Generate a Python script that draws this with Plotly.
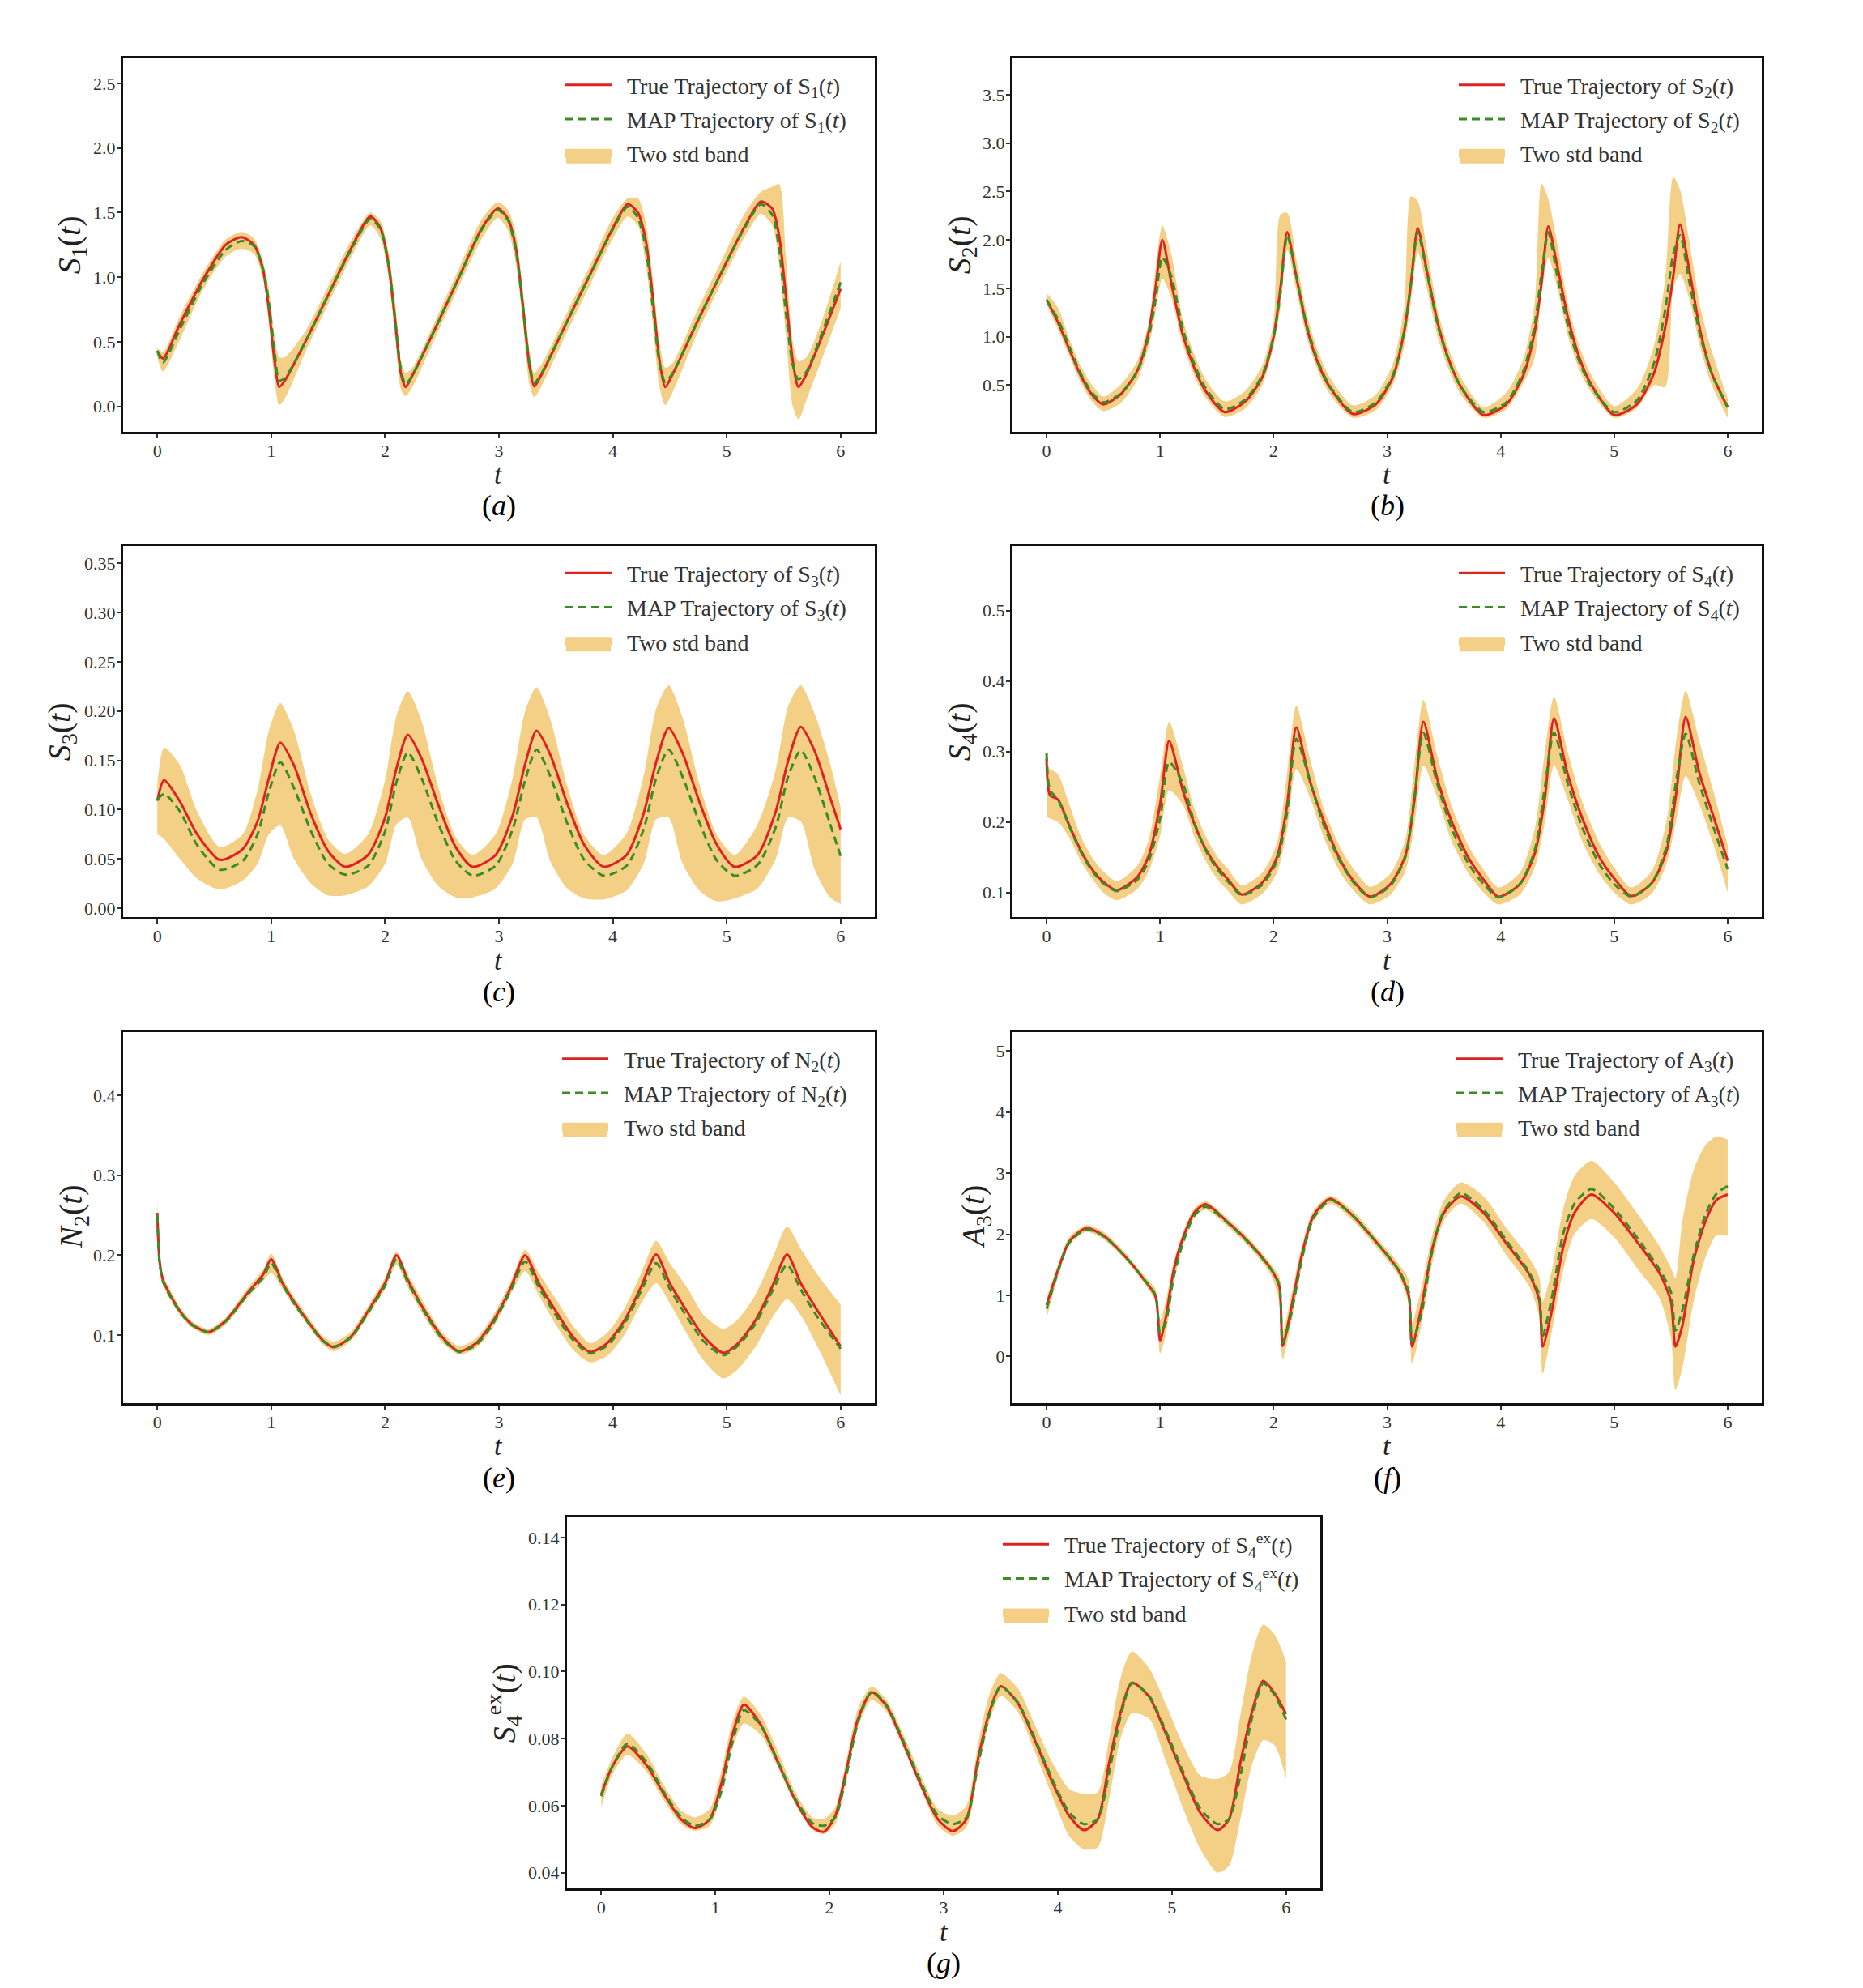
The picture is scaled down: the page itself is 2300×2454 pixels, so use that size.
import plotly.graph_objects as go

# ---------------- data ----------------
# (a) S1
t_a = [0.00, 0.05, 0.20, 0.40, 0.60, 0.74, 0.85, 0.93, 0.98, 1.03,
       1.07, 1.12, 1.30, 1.50, 1.70, 1.87, 1.96, 2.03, 2.09, 2.14,
       2.18, 2.24, 2.45, 2.65, 2.85, 2.99, 3.08, 3.15, 3.21, 3.27,
       3.31, 3.37, 3.60, 3.80, 4.00, 4.13, 4.22, 4.29, 4.35, 4.41,
       4.46, 4.52, 4.75, 4.95, 5.15, 5.30, 5.40, 5.46, 5.52, 5.58,
       5.63, 5.70, 5.85, 6.00]
true_a = [0.43, 0.37, 0.64, 0.98, 1.25, 1.31, 1.25, 1.05, 0.75, 0.35,
          0.15, 0.20, 0.50, 0.86, 1.22, 1.47, 1.38, 1.10, 0.65, 0.25,
          0.15, 0.24, 0.62, 1.00, 1.38, 1.53, 1.45, 1.22, 0.78, 0.30,
          0.155, 0.24, 0.66, 1.02, 1.38, 1.565, 1.50, 1.28, 0.85, 0.35,
          0.15, 0.24, 0.67, 1.03, 1.38, 1.585, 1.53, 1.32, 0.85, 0.35,
          0.15, 0.25, 0.57, 0.91]
map_a = [0.43, 0.34, 0.60, 0.95, 1.21, 1.28, 1.24, 1.06, 0.80, 0.42,
         0.20, 0.22, 0.50, 0.86, 1.21, 1.45, 1.37, 1.10, 0.66, 0.28,
         0.17, 0.24, 0.62, 1.00, 1.37, 1.52, 1.44, 1.20, 0.77, 0.32,
         0.18, 0.25, 0.66, 1.02, 1.37, 1.545, 1.46, 1.22, 0.78, 0.33,
         0.19, 0.25, 0.67, 1.03, 1.37, 1.565, 1.48, 1.22, 0.72, 0.32,
         0.21, 0.27, 0.60, 0.96]
lo_a = [0.38, 0.27, 0.52, 0.90, 1.16, 1.22, 1.18, 0.98, 0.65, 0.20,
        0.01, 0.06, 0.42, 0.79, 1.15, 1.40, 1.30, 1.00, 0.52, 0.13,
        0.08, 0.15, 0.55, 0.93, 1.30, 1.46, 1.36, 1.10, 0.65, 0.16,
        0.07, 0.15, 0.58, 0.94, 1.30, 1.47, 1.40, 1.10, 0.65, 0.15,
        0.01, 0.10, 0.58, 0.95, 1.30, 1.49, 1.40, 1.10, 0.55, 0.00,
        -0.10, 0.05, 0.40, 0.76]
hi_a = [0.45, 0.42, 0.70, 1.03, 1.29, 1.35, 1.30, 1.12, 0.90, 0.55,
        0.38, 0.38, 0.58, 0.93, 1.28, 1.50, 1.43, 1.20, 0.80, 0.35,
        0.26, 0.30, 0.68, 1.07, 1.45, 1.58, 1.52, 1.33, 0.90, 0.42,
        0.26, 0.32, 0.73, 1.09, 1.46, 1.61, 1.61, 1.42, 1.00, 0.50,
        0.30, 0.33, 0.76, 1.12, 1.48, 1.66, 1.70, 1.72, 1.15, 0.50,
        0.35, 0.38, 0.70, 1.12]

# (b) S2
t_b = [0.00, 0.10, 0.20, 0.30, 0.40, 0.50, 0.65, 0.80, 0.90, 0.96,
       1.02, 1.10, 1.20, 1.30, 1.40, 1.57, 1.75, 1.90, 2.00, 2.06,
       2.12, 2.20, 2.30, 2.40, 2.50, 2.70, 2.90, 3.05, 3.15, 3.21,
       3.27, 3.35, 3.45, 3.55, 3.65, 3.85, 4.05, 4.20, 4.30, 4.36,
       4.42, 4.50, 4.60, 4.70, 4.80, 5.00, 5.20, 5.35, 5.45, 5.52,
       5.58, 5.66, 5.76, 5.86, 6.00]
true_b = [1.38, 1.15, 0.87, 0.60, 0.40, 0.30, 0.40, 0.65, 1.05, 1.50,
          2.00, 1.55, 1.02, 0.68, 0.44, 0.22, 0.33, 0.58, 1.00, 1.50,
          2.08, 1.62, 1.06, 0.70, 0.47, 0.20, 0.30, 0.58, 1.05, 1.55,
          2.12, 1.68, 1.12, 0.74, 0.48, 0.19, 0.30, 0.60, 1.05, 1.55,
          2.14, 1.72, 1.16, 0.76, 0.50, 0.19, 0.30, 0.62, 1.10, 1.62,
          2.16, 1.70, 1.05, 0.62, 0.27]
map_b = [1.38, 1.18, 0.90, 0.62, 0.42, 0.32, 0.41, 0.64, 1.00, 1.38,
         1.82, 1.62, 1.08, 0.72, 0.47, 0.25, 0.35, 0.60, 1.00, 1.45,
         2.05, 1.62, 1.08, 0.72, 0.48, 0.22, 0.32, 0.60, 1.05, 1.55,
         2.08, 1.66, 1.10, 0.73, 0.48, 0.22, 0.32, 0.64, 1.12, 1.65,
         2.08, 1.62, 1.08, 0.72, 0.48, 0.22, 0.34, 0.72, 1.28, 1.85,
         2.05, 1.58, 1.00, 0.62, 0.27]
lo_b = [1.33, 1.08, 0.80, 0.53, 0.33, 0.23, 0.31, 0.55, 0.90, 1.25,
        1.60, 1.40, 0.92, 0.60, 0.37, 0.17, 0.26, 0.50, 0.90, 1.30,
        1.90, 1.48, 0.96, 0.62, 0.40, 0.16, 0.24, 0.50, 0.90, 1.35,
        1.88, 1.50, 0.98, 0.64, 0.40, 0.16, 0.25, 0.52, 0.78, 1.45,
        1.82, 1.50, 0.98, 0.64, 0.42, 0.16, 0.26, 0.50, 0.48, 1.50,
        1.65, 1.40, 0.88, 0.50, 0.16]
hi_b = [1.45, 1.30, 0.98, 0.70, 0.50, 0.38, 0.50, 0.75, 1.15, 1.70,
        2.15, 1.85, 1.18, 0.82, 0.56, 0.33, 0.44, 0.70, 1.15, 2.26,
        2.28, 1.80, 1.20, 0.82, 0.57, 0.29, 0.40, 0.72, 1.30, 2.45,
        2.40, 1.90, 1.25, 0.85, 0.58, 0.27, 0.42, 0.77, 1.35, 2.58,
        2.42, 1.95, 1.30, 0.88, 0.60, 0.28, 0.46, 0.90, 1.60, 2.65,
        2.52, 2.00, 1.30, 0.85, 0.36]

# (c) S3
t_c = [0.00, 0.06, 0.20, 0.35, 0.55, 0.75, 0.88, 0.98, 1.08, 1.20,
       1.35, 1.50, 1.65, 1.85, 2.00, 2.10, 2.20, 2.32, 2.47, 2.62,
       2.77, 2.97, 3.12, 3.23, 3.33, 3.45, 3.60, 3.75, 3.92, 4.12,
       4.27, 4.38, 4.49, 4.61, 4.76, 4.91, 5.07, 5.27, 5.43, 5.54,
       5.65, 5.77, 5.90, 6.00]
true_c = [0.109, 0.130, 0.108, 0.075, 0.049, 0.060, 0.088, 0.132, 0.168, 0.145,
          0.095, 0.058, 0.042, 0.054, 0.092, 0.142, 0.176, 0.152, 0.104, 0.062,
          0.042, 0.054, 0.094, 0.146, 0.180, 0.156, 0.106, 0.064, 0.042, 0.054,
          0.096, 0.148, 0.183, 0.158, 0.108, 0.065, 0.042, 0.054, 0.098, 0.150,
          0.184, 0.160, 0.115, 0.080]
map_c = [0.110, 0.116, 0.098, 0.064, 0.039, 0.048, 0.075, 0.118, 0.148, 0.122,
         0.078, 0.045, 0.034, 0.043, 0.078, 0.128, 0.158, 0.132, 0.085, 0.048,
         0.033, 0.043, 0.080, 0.130, 0.161, 0.134, 0.086, 0.049, 0.033, 0.043,
         0.080, 0.132, 0.161, 0.134, 0.087, 0.049, 0.033, 0.044, 0.082, 0.134,
         0.160, 0.133, 0.088, 0.053]
lo_c = [0.075, 0.070, 0.050, 0.030, 0.019, 0.028, 0.045, 0.075, 0.084, 0.050,
        0.025, 0.013, 0.013, 0.022, 0.045, 0.085, 0.092, 0.050, 0.022, 0.011,
        0.011, 0.020, 0.045, 0.090, 0.092, 0.048, 0.020, 0.010, 0.009, 0.018,
        0.045, 0.090, 0.092, 0.046, 0.018, 0.007, 0.010, 0.020, 0.050, 0.092,
        0.088, 0.040, 0.012, 0.004]
hi_c = [0.125, 0.163, 0.145, 0.098, 0.062, 0.075, 0.120, 0.180, 0.208, 0.180,
        0.115, 0.070, 0.055, 0.075, 0.130, 0.195, 0.220, 0.190, 0.122, 0.072,
        0.054, 0.075, 0.132, 0.200, 0.224, 0.192, 0.124, 0.074, 0.054, 0.076,
        0.134, 0.202, 0.226, 0.194, 0.126, 0.075, 0.054, 0.085, 0.140, 0.205,
        0.226, 0.198, 0.150, 0.102]

# (d) S4
t_d = [0.00, 0.03, 0.10, 0.20, 0.30, 0.40, 0.50, 0.62, 0.80, 0.90,
       1.00, 1.08, 1.20, 1.30, 1.40, 1.50, 1.60, 1.72, 1.90, 2.03,
       2.12, 2.20, 2.32, 2.45, 2.60, 2.72, 2.85, 3.03, 3.16, 3.24,
       3.32, 3.44, 3.57, 3.72, 3.85, 3.98, 4.17, 4.30, 4.39, 4.47,
       4.59, 4.72, 4.87, 5.00, 5.15, 5.33, 5.46, 5.55, 5.63, 5.75,
       5.88, 6.00]
true_d = [0.290, 0.238, 0.232, 0.195, 0.160, 0.133, 0.115, 0.103, 0.122, 0.152,
          0.225, 0.315, 0.245, 0.198, 0.162, 0.137, 0.118, 0.097, 0.114, 0.150,
          0.225, 0.334, 0.258, 0.198, 0.142, 0.113, 0.094, 0.112, 0.152, 0.230,
          0.342, 0.262, 0.200, 0.148, 0.118, 0.094, 0.112, 0.155, 0.235, 0.347,
          0.268, 0.205, 0.150, 0.120, 0.095, 0.113, 0.158, 0.245, 0.349, 0.270,
          0.205, 0.145]
map_d = [0.298, 0.245, 0.232, 0.194, 0.158, 0.131, 0.113, 0.102, 0.118, 0.145,
         0.205, 0.285, 0.255, 0.200, 0.160, 0.134, 0.115, 0.096, 0.111, 0.145,
         0.215, 0.318, 0.258, 0.192, 0.140, 0.111, 0.093, 0.110, 0.150, 0.235,
         0.326, 0.255, 0.190, 0.140, 0.112, 0.093, 0.112, 0.160, 0.250, 0.327,
         0.255, 0.192, 0.140, 0.112, 0.094, 0.113, 0.165, 0.262, 0.325, 0.255,
         0.190, 0.133]
lo_d = [0.208, 0.205, 0.200, 0.178, 0.145, 0.120, 0.100, 0.089, 0.105, 0.130,
        0.180, 0.245, 0.225, 0.180, 0.145, 0.120, 0.102, 0.083, 0.098, 0.128,
        0.190, 0.275, 0.235, 0.175, 0.125, 0.100, 0.083, 0.097, 0.130, 0.195,
        0.280, 0.235, 0.172, 0.126, 0.100, 0.083, 0.097, 0.135, 0.200, 0.280,
        0.232, 0.172, 0.126, 0.100, 0.083, 0.098, 0.140, 0.205, 0.265, 0.225,
        0.165, 0.100]
hi_d = [0.282, 0.275, 0.268, 0.225, 0.180, 0.150, 0.130, 0.116, 0.138, 0.175,
        0.265, 0.342, 0.280, 0.220, 0.180, 0.152, 0.133, 0.110, 0.128, 0.170,
        0.270, 0.365, 0.290, 0.215, 0.160, 0.130, 0.108, 0.127, 0.175, 0.280,
        0.373, 0.295, 0.222, 0.165, 0.132, 0.107, 0.128, 0.190, 0.300, 0.378,
        0.300, 0.228, 0.170, 0.135, 0.107, 0.130, 0.200, 0.320, 0.386, 0.315,
        0.240, 0.167]

# (e) N2
t_e = [0.00, 0.02, 0.05, 0.10, 0.20, 0.30, 0.45, 0.60, 0.80, 0.93,
       1.00, 1.10, 1.20, 1.35, 1.45, 1.55, 1.70, 1.85, 2.00, 2.10,
       2.20, 2.35, 2.50, 2.65, 2.80, 2.95, 3.10, 3.23, 3.35, 3.50,
       3.65, 3.80, 3.95, 4.10, 4.25, 4.38, 4.50, 4.65, 4.80, 4.97,
       5.10, 5.25, 5.40, 5.53, 5.65, 5.80, 6.00]
true_e = [0.253, 0.193, 0.169, 0.154, 0.130, 0.114, 0.104, 0.118, 0.154, 0.176,
          0.195, 0.165, 0.142, 0.112, 0.094, 0.085, 0.098, 0.130, 0.165, 0.200,
          0.169, 0.130, 0.098, 0.080, 0.090, 0.118, 0.158, 0.200, 0.165, 0.130,
          0.098, 0.079, 0.090, 0.118, 0.161, 0.201, 0.165, 0.130, 0.098, 0.078,
          0.090, 0.118, 0.161, 0.201, 0.165, 0.130, 0.086]
map_e = [0.250, 0.190, 0.167, 0.152, 0.129, 0.113, 0.104, 0.117, 0.152, 0.172,
         0.190, 0.163, 0.140, 0.111, 0.093, 0.086, 0.097, 0.128, 0.162, 0.195,
         0.166, 0.128, 0.096, 0.079, 0.088, 0.115, 0.155, 0.192, 0.160, 0.125,
         0.094, 0.077, 0.087, 0.114, 0.156, 0.190, 0.158, 0.123, 0.092, 0.075,
         0.087, 0.114, 0.155, 0.188, 0.157, 0.122, 0.083]
lo_e = [0.235, 0.185, 0.162, 0.148, 0.125, 0.110, 0.100, 0.113, 0.148, 0.168,
        0.178, 0.158, 0.136, 0.107, 0.089, 0.080, 0.093, 0.124, 0.158, 0.188,
        0.160, 0.122, 0.091, 0.076, 0.084, 0.110, 0.150, 0.180, 0.150, 0.113,
        0.082, 0.066, 0.074, 0.100, 0.140, 0.165, 0.140, 0.102, 0.068, 0.046,
        0.058, 0.085, 0.122, 0.145, 0.125, 0.085, 0.025]
hi_e = [0.272, 0.200, 0.176, 0.160, 0.135, 0.118, 0.108, 0.122, 0.160, 0.182,
        0.202, 0.172, 0.148, 0.118, 0.099, 0.092, 0.104, 0.136, 0.172, 0.204,
        0.176, 0.138, 0.104, 0.086, 0.096, 0.125, 0.166, 0.207, 0.178, 0.145,
        0.112, 0.090, 0.103, 0.133, 0.178, 0.218, 0.190, 0.160, 0.125, 0.108,
        0.120, 0.150, 0.196, 0.236, 0.208, 0.175, 0.138]

# (f) A3
t_f = [0.00, 0.10, 0.20, 0.35, 0.50, 0.70, 0.85, 0.96, 1.00, 1.05,
       1.12, 1.20, 1.30, 1.40, 1.60, 1.80, 1.98, 2.05, 2.08, 2.15,
       2.25, 2.35, 2.50, 2.70, 2.90, 3.10, 3.19, 3.22, 3.30, 3.40,
       3.50, 3.65, 3.85, 4.05, 4.25, 4.34, 4.37, 4.45, 4.55, 4.65,
       4.80, 5.00, 5.20, 5.40, 5.50, 5.54, 5.60, 5.70, 5.80, 5.90,
       6.00]
true_f = [0.84, 1.41, 1.88, 2.10, 1.98, 1.62, 1.28, 0.98, 0.26, 0.63,
          1.41, 1.93, 2.35, 2.49, 2.19, 1.83, 1.42, 1.15, 0.17, 0.74,
          1.67, 2.30, 2.58, 2.30, 1.88, 1.41, 1.00, 0.16, 0.79, 1.78,
          2.35, 2.62, 2.35, 1.85, 1.35, 0.92, 0.16, 0.74, 1.78, 2.35,
          2.65, 2.35, 1.88, 1.36, 0.90, 0.16, 0.50, 1.57, 2.19, 2.56,
          2.65]
map_f = [0.78, 1.38, 1.86, 2.08, 1.97, 1.62, 1.28, 1.00, 0.38, 0.55,
         1.30, 1.85, 2.30, 2.45, 2.18, 1.82, 1.42, 1.18, 0.22, 0.65,
         1.60, 2.26, 2.56, 2.30, 1.88, 1.42, 1.05, 0.24, 0.68, 1.75,
         2.38, 2.67, 2.40, 1.90, 1.38, 1.00, 0.33, 0.95, 2.00, 2.50,
         2.74, 2.42, 1.95, 1.42, 1.05, 0.42, 0.75, 1.65, 2.30, 2.66,
         2.79]
lo_f = [0.62, 1.30, 1.82, 2.04, 1.92, 1.57, 1.22, 0.90, 0.05, 0.35,
        1.20, 1.80, 2.26, 2.40, 2.12, 1.76, 1.32, 0.90, -0.05, 0.50,
        1.50, 2.20, 2.50, 2.22, 1.80, 1.32, 0.85, -0.12, 0.50, 1.55,
        2.22, 2.50, 2.20, 1.66, 1.15, 0.65, -0.28, 0.40, 1.40, 2.00,
        2.25, 1.95, 1.45, 0.95, 0.30, -0.55, -0.20, 0.90, 1.60, 1.98,
        1.97]
hi_f = [0.95, 1.50, 1.95, 2.15, 2.04, 1.68, 1.34, 1.10, 0.60, 0.90,
        1.55, 2.02, 2.42, 2.54, 2.25, 1.90, 1.50, 1.30, 0.40, 0.95,
        1.82, 2.38, 2.63, 2.38, 1.96, 1.52, 1.25, 0.55, 1.10, 2.00,
        2.55, 2.85, 2.62, 2.10, 1.62, 1.30, 0.90, 1.40, 2.40, 2.95,
        3.20, 2.85, 2.35, 1.80, 1.45, 1.28, 2.20, 3.05, 3.45, 3.60,
        3.55]

# (g) S4^ex
t_g = [0.00, 0.10, 0.23, 0.40, 0.55, 0.70, 0.82, 0.95, 1.05, 1.15,
       1.25, 1.40, 1.55, 1.70, 1.85, 1.95, 2.05, 2.15, 2.25, 2.37,
       2.50, 2.65, 2.80, 2.95, 3.08, 3.20, 3.30, 3.40, 3.50, 3.65,
       3.80, 3.95, 4.10, 4.23, 4.35, 4.45, 4.55, 4.65, 4.80, 4.95,
       5.10, 5.25, 5.40, 5.50, 5.60, 5.70, 5.80, 5.90, 6.00]
true_g = [0.0634, 0.0719, 0.0777, 0.0719, 0.0634, 0.0559, 0.0533, 0.0559, 0.0662, 0.0812,
          0.0901, 0.0840, 0.0728, 0.0616, 0.0536, 0.0522, 0.0569, 0.0709, 0.0859, 0.0938,
          0.0897, 0.0784, 0.0662, 0.0559, 0.0524, 0.0559, 0.0737, 0.0878, 0.0956, 0.0906,
          0.0794, 0.0672, 0.0569, 0.0527, 0.0559, 0.0728, 0.0878, 0.0967, 0.0925, 0.0812,
          0.0691, 0.0578, 0.0527, 0.0559, 0.0728, 0.0878, 0.0972, 0.0935, 0.0873]
map_g = [0.0628, 0.0718, 0.0785, 0.0728, 0.0640, 0.0565, 0.0540, 0.0558, 0.0640, 0.0790,
         0.0885, 0.0838, 0.0730, 0.0620, 0.0548, 0.0540, 0.0565, 0.0695, 0.0850, 0.0940,
         0.0900, 0.0790, 0.0670, 0.0570, 0.0545, 0.0565, 0.0720, 0.0870, 0.0955, 0.0908,
         0.0800, 0.0680, 0.0580, 0.0545, 0.0560, 0.0700, 0.0865, 0.0965, 0.0928, 0.0820,
         0.0700, 0.0590, 0.0545, 0.0560, 0.0690, 0.0860, 0.0965, 0.0930, 0.0857]
lo_g = [0.0595, 0.0695, 0.0752, 0.0700, 0.0615, 0.0545, 0.0525, 0.0540, 0.0630, 0.0770,
        0.0845, 0.0810, 0.0712, 0.0605, 0.0528, 0.0515, 0.0545, 0.0680, 0.0835, 0.0915,
        0.0880, 0.0770, 0.0650, 0.0540, 0.0510, 0.0535, 0.0700, 0.0850, 0.0928, 0.0880,
        0.0760, 0.0630, 0.0510, 0.0470, 0.0475, 0.0620, 0.0800, 0.0875, 0.0860, 0.0730,
        0.0590, 0.0470, 0.0400, 0.0420, 0.0560, 0.0720, 0.0795, 0.0780, 0.0680]
hi_g = [0.0660, 0.0745, 0.0815, 0.0752, 0.0660, 0.0585, 0.0565, 0.0590, 0.0700, 0.0850,
        0.0925, 0.0870, 0.0760, 0.0640, 0.0565, 0.0560, 0.0595, 0.0740, 0.0890, 0.0955,
        0.0915, 0.0810, 0.0690, 0.0590, 0.0570, 0.0600, 0.0780, 0.0930, 0.0995, 0.0950,
        0.0840, 0.0730, 0.0650, 0.0635, 0.0640, 0.0800, 0.0980, 0.1060, 0.1010, 0.0900,
        0.0780, 0.0690, 0.0680, 0.0700, 0.0870, 0.1050, 0.1140, 0.1110, 0.1030]

names = ["S<sub>1</sub>", "S<sub>2</sub>", "S<sub>3</sub>", "S<sub>4</sub>",
         "N<sub>2</sub>", "A<sub>3</sub>", "S<sub>4</sub><sup>ex</sup>"]
captions = ["a", "b", "c", "d", "e", "f", "g"]
x_ticks = [0, 1, 2, 3, 4, 5, 6]
y_ticks = [[0.0, 0.5, 1.0, 1.5, 2.0, 2.5],
           [0.5, 1.0, 1.5, 2.0, 2.5, 3.0, 3.5],
           [0.00, 0.05, 0.10, 0.15, 0.20, 0.25, 0.30, 0.35],
           [0.1, 0.2, 0.3, 0.4, 0.5],
           [0.1, 0.2, 0.3, 0.4],
           [0, 1, 2, 3, 4, 5],
           [0.04, 0.06, 0.08, 0.10, 0.12, 0.14]]
y_fmt = [".1f", ".1f", ".2f", ".1f", ".1f", "d", ".2f"]
y_ranges = [[-0.194, 2.694], [0.02, 3.877], [-0.009, 0.367], [0.065, 0.591],
            [0.0155, 0.479], [-0.76, 5.31], [0.0353, 0.1459]]

panels = [(t_a, true_a, map_a, lo_a, hi_a), (t_b, true_b, map_b, lo_b, hi_b),
          (t_c, true_c, map_c, lo_c, hi_c), (t_d, true_d, map_d, lo_d, hi_d),
          (t_e, true_e, map_e, lo_e, hi_e), (t_f, true_f, map_f, lo_f, hi_f),
          (t_g, true_g, map_g, lo_g, hi_g)]

for p in panels:
    assert all(len(a) == len(p[0]) for a in p), [len(a) for a in p]

# ---------------- layout geometry (pixels) ----------------
W, H = 2300, 2454
# left, right, top, bottom of each axes box
boxes = [(152, 1080, 72, 533), (1250, 2175, 72, 533),
         (152, 1080, 675, 1133), (1250, 2175, 675, 1133),
         (152, 1080, 1275, 1733), (1250, 2175, 1275, 1733),
         (700, 1630, 1875, 2333)]
ylab_off = [64, 63, 76, 63, 62, 46, 78]
leg_x = [699, 1802, 699, 1802, 695, 1799, 1239]
SWATCH_W = 57

RED = "#dd2222"
GREEN = "#3c8c26"
BAND = "#f4cf86"
FONT = "Liberation Serif"
TXT = "#333333"
GAP = "&nbsp;&nbsp;"

fig = go.Figure()
annotations = []
shapes = []

for i, (t, tr, mp, lo, hi) in enumerate(panels):
    k = "" if i == 0 else str(i + 1)
    xa, ya = "x" + k, "y" + k
    leg = "legend" + k
    nm = names[i]
    spl = dict(shape="spline", smoothing=0.7)

    # two std band
    fig.add_trace(go.Scatter(x=t, y=lo, mode="lines", xaxis=xa, yaxis=ya,
                             line=dict(width=0, color=BAND, **spl),
                             showlegend=False, hoverinfo="skip", legend=leg))
    fig.add_trace(go.Scatter(x=t, y=hi, mode="lines", xaxis=xa, yaxis=ya, fill="tonexty",
                             fillcolor=BAND, line=dict(width=0, color=BAND, **spl),
                             showlegend=False, hoverinfo="skip", legend=leg))
    fig.add_trace(go.Scatter(x=t, y=tr, mode="lines", xaxis=xa, yaxis=ya,
                             line=dict(color=RED, width=3, **spl),
                             name=GAP + "True Trajectory of " + nm + "(<i>t</i>)",
                             legend=leg, legendgroup="true" + k))
    fig.add_trace(go.Scatter(x=t, y=mp, mode="lines", xaxis=xa, yaxis=ya,
                             line=dict(color=GREEN, width=3, dash="10px,6px", **spl),
                             name=GAP + "MAP Trajectory of " + nm + "(<i>t</i>)",
                             legend=leg, legendgroup="map" + k))
    # legend entry for the band
    fig.add_trace(go.Scatter(x=[None], y=[None], mode="lines", xaxis=xa, yaxis=ya,
                             line=dict(color=BAND, width=10),
                             name=GAP + "Two std band", legend=leg, legendgroup="band" + k))

    l, r, tp, b = boxes[i]
    axis_common = dict(showline=True, mirror=True, linecolor="#111111", linewidth=3,
                       ticks="outside", ticklen=5, tickwidth=1.5, tickcolor=TXT,
                       ticklabelstandoff=-3,
                       showgrid=False, zeroline=False,
                       tickfont=dict(family=FONT, size=22, color=TXT))
    fig.update_layout({
        "xaxis" + k: dict(domain=[l / W, r / W], anchor=ya, range=[-0.3, 6.3],
                          tickvals=x_ticks, **axis_common),
        "yaxis" + k: dict(domain=[1 - b / H, 1 - tp / H], anchor=xa, range=y_ranges[i],
                          tickvals=y_ticks[i], tickformat=y_fmt[i], **axis_common),
        leg: dict(x=(leg_x[i] - 6) / W, y=1 - (tp + 8) / H,
                  xanchor="left", yanchor="top", bgcolor="rgba(0,0,0,0)",
                  font=dict(family=FONT, size=28, color=TXT), itemwidth=SWATCH_W,
                  traceorder="grouped", tracegroupgap=3),
    })

    # taller swatch behind the band legend entry, as in the original legend
    shapes.append(dict(type="rect", xref="paper", yref="paper", layer="above",
                       x0=leg_x[i] / W, x1=(leg_x[i] + SWATCH_W - 2) / W,
                       y0=1 - (tp + 130) / H, y1=1 - (tp + 112) / H,
                       fillcolor=BAND, line=dict(width=0)))

    cx = (l + r) / 2
    annotations.append(dict(x=cx / W, y=1 - (b + 53) / H, xref="paper", yref="paper",
                            xanchor="center", yanchor="middle",
                            text="<i>t</i>", showarrow=False,
                            font=dict(family=FONT, size=34, color="#222222")))
    annotations.append(dict(x=(l - ylab_off[i]) / W, y=1 - ((tp + b) / 2) / H,
                            xref="paper", yref="paper", xanchor="center", yanchor="middle",
                            textangle=-90,
                            text="<i>" + nm[0] + "</i>" + nm[1:] + "(<i>t</i>)",
                            showarrow=False,
                            font=dict(family=FONT, size=40, color="#222222")))
    annotations.append(dict(x=cx / W, y=1 - (b + 92) / H, xref="paper", yref="paper",
                            xanchor="center", yanchor="middle",
                            text="(<i>" + captions[i] + "</i>)", showarrow=False,
                            font=dict(family=FONT, size=36, color="black")))

fig.update_layout(width=W, height=H, margin=dict(l=0, r=0, t=0, b=0),
                  paper_bgcolor="white", plot_bgcolor="white",
                  annotations=annotations, shapes=shapes)

fig.write_html("out.html", config={"displayModeBar": False},
               post_script="document.body.style.margin='0';")
